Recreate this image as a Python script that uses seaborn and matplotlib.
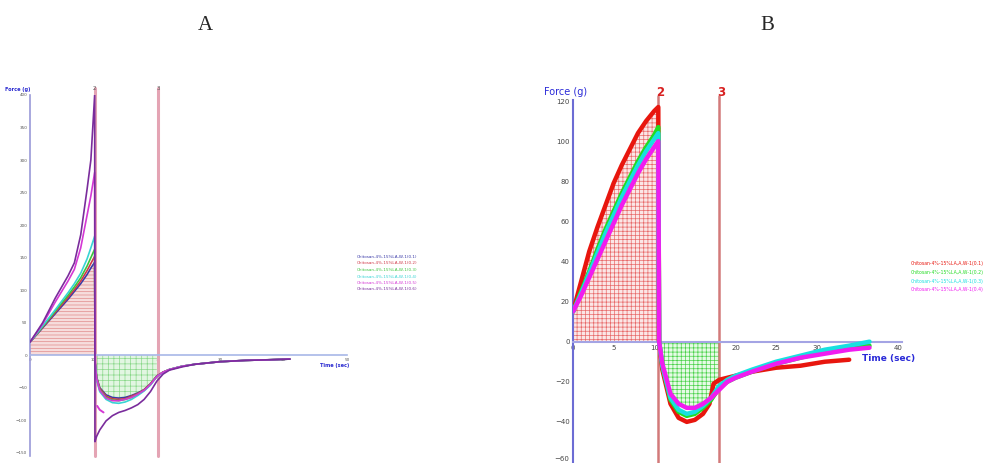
import numpy as np
import pandas as pd
import matplotlib
matplotlib.use("Agg")
import matplotlib.pyplot as plt
import seaborn as sns

# ---------------- Panel A: six samples, compression + withdrawal ----------------
a_names = ["Chitosan-4%-15%LA,W-1(0.1)", "Chitosan-4%-15%LA,W-1(0.2)",
           "Chitosan-4%-15%LA,W-1(0.3)", "Chitosan-4%-15%LA,W-1(0.4)",
           "Chitosan-4%-15%LA,W-1(0.5)", "Chitosan-4%-15%LA,W-1(0.6)"]
a_colors = ["#3a3aa8", "#d03848", "#3cc43c", "#38d4d4", "#d438d4", "#7a2c9c"]

a_time = [0, 2, 4, 6, 7, 8, 9, 9.6, 10.2,
          10.25, 10.5, 11, 12, 13, 14, 15, 16, 17, 18, 19, 20, 21, 22,
          24, 26, 28, 30, 34, 38, 41]
a_blue = [20, 42, 64, 86, 98, 110, 124, 134, 143,
          -8, -33, -50, -61, -65, -66, -65, -62, -58, -53, -44, -32, -26, -22,
          -17, -14, -12, -10, -8, -7, -6]
a_red = [20, 43, 66, 89, 101, 114, 130, 141, 152,
         -9, -34, -51, -63, -67, -68, -67, -63, -59, -53, -44, -32, -26, -22,
         -17, -14, -12, -10, -8, -7, -6]
a_green = [20, 44, 68, 92, 105, 119, 137, 150, 163,
           -10, -36, -53, -65, -69, -70, -68, -65, -60, -54, -45, -33, -26, -22,
           -17, -14, -12, -10, -8, -7, -6]
a_cyan = [20, 45, 70, 96, 110, 126, 148, 165, 183,
          -10, -38, -56, -68, -73, -74, -72, -68, -62, -55, -46, -33, -27, -22,
          -17, -14, -12, -10, -8, -7, -6]
a_magenta = [20, 48, 82, 114, 132, 165, 215, 245, 281,
             -10, -36, -54, -66, -70, -70, -68, -65, -60, -54, -45, -33, -26, -22,
             -17, -14, -12, -10, -8, -7, -6]
a_purple = [20, 50, 88, 122, 142, 185, 255, 300, 400,
            -133, -125, -115, -101, -93, -88, -85, -81, -76, -68, -56, -40, -29, -23,
            -18, -14, -12, -10, -8, -7, -6]
a_frag_time = [10.6, 11.0, 11.6]
a_frag_force = [-78, -84, -88]

a_markers = [10.2, 20.2]
a_marker_labels = ["2", "3"]
a_yticks = [-150, -100, -50, 0, 50, 100, 150, 200, 250, 300, 350, 400]
a_xticks = [0, 10, 20, 30, 40, 50]

# ---------------- Panel B: four samples ----------------
b_names = ["Chitosan-4%-15%LA,A,W-1(0.1)", "Chitosan-4%-15%LA,A,W-1(0.2)",
           "Chitosan-4%-15%LA,A,W-1(0.3)", "Chitosan-4%-15%LA,A,W-1(0.4)"]
b_colors = ["#e8160e", "#22dc22", "#18e0e0", "#f01cf0"]

b_rise_time = [0, 1, 2, 3, 4, 5, 6, 7, 8, 9, 10, 10.5]
b_red_rise = [15, 30, 45, 57, 68, 79, 88, 96, 104, 110, 115, 117]
b_green_rise = [15, 25, 35, 46, 56, 65, 74, 82, 90, 97, 103, 107]
b_cyan_rise = [15, 24, 34, 44, 54, 63, 72, 80, 88, 95, 101, 104]
b_magenta_rise = [15, 23, 32, 41, 50, 59, 68, 76, 84, 91, 97, 100]

b_red_fall_time = [10.6, 11, 12, 13, 14, 15, 16, 16.8, 17.3, 18, 19, 20, 22, 25, 28, 31, 34]
b_red_fall = [0, -14, -31, -38, -40, -39, -36, -31, -21, -19, -18, -17, -15, -13, -12, -10, -9]
b_fall_time = [10.6, 11, 12, 13, 14, 15, 16, 17, 18, 19, 20, 22, 25, 28, 31, 34, 36.5]
b_green_fall = [0, -12, -29, -35, -37, -36, -33, -29, -23, -20, -18, -15, -11, -8, -5, -3, -2]
b_cyan_fall = [0, -12, -28, -34, -36, -35, -32, -28, -22, -19, -17, -14, -10, -7, -4, -2, 0]
b_magenta_fall = [0, -11, -26, -31, -33, -33, -31, -28, -24, -20, -18, -15, -11, -8, -6, -4, -3]

b_markers = [10.5, 18.0]
b_marker_labels = ["2", "3"]
b_yticks = [-60, -40, -20, 0, 20, 40, 60, 80, 100, 120]
b_xticks = [0, 5, 10, 15, 20, 25, 30, 35, 40]

# ---------------- long tables ----------------
rows = []
for name, vals in zip(a_names, [a_blue, a_red, a_green, a_cyan, a_magenta, a_purple]):
    for t, f in zip(a_time, vals):
        rows.append((name, t, f))
df_a = pd.DataFrame(rows, columns=["sample", "time", "force"])

rows = []
b_rise = [b_red_rise, b_green_rise, b_cyan_rise, b_magenta_rise]
b_fall = [(b_red_fall_time, b_red_fall), (b_fall_time, b_green_fall),
          (b_fall_time, b_cyan_fall), (b_fall_time, b_magenta_fall)]
for name, rise, (ft, fv) in zip(b_names, b_rise, b_fall):
    for t, f in zip(b_rise_time + ft, rise + fv):
        rows.append((name, t, f))
df_b = pd.DataFrame(rows, columns=["sample", "time", "force"])

sns.set_style("white")
plt.rcParams["font.family"] = ["DejaVu Sans"]
plt.rcParams["hatch.linewidth"] = 0.5

W, H = 988, 463
fig = plt.figure(figsize=(W / 100, H / 100), dpi=100)
fig.patch.set_facecolor("white")


def px(x, y):
    return x / W, 1 - y / H


# ---------------- Panel A ----------------
axA = fig.add_axes([30 / W, 7 / H, 317 / W, 361 / H])
axA.set_xlim(0, 50)
axA.set_ylim(-155, 400)

t_arr = np.array(a_time)
blue_arr = np.array(a_blue, dtype=float)
m1 = t_arr <= 10.2
axA.fill_between(t_arr[m1], 0, blue_arr[m1], facecolor="#f6dcdc",
                 edgecolor="#e08a8a", hatch="-----", linewidth=0, zorder=1)
m2 = (t_arr >= 10.2) & (t_arr <= 20.2)
axA.fill_between(np.r_[10.2, t_arr[m2][1:]], 0, np.r_[0, blue_arr[m2][1:]],
                 facecolor="#e2f6e2", edgecolor="#8ad88a", hatch="+++",
                 linewidth=0, zorder=1)

for xm in a_markers:
    axA.axvline(xm, color="#e4a4b4", lw=2.2, zorder=2, clip_on=False, ymax=1.02)

sns.lineplot(data=df_a, x="time", y="force", hue="sample",
             palette=dict(zip(a_names, a_colors)), estimator=None, sort=False,
             linewidth=1.2, legend=False, ax=axA, zorder=3)
sns.lineplot(x=a_frag_time, y=a_frag_force, color=a_colors[4], linewidth=1.4,
             estimator=None, sort=False, ax=axA, zorder=3)

for s in ["top", "right"]:
    axA.spines[s].set_visible(False)
axA.spines["left"].set_color("#9a9ad8")
axA.spines["left"].set_linewidth(1.2)
axA.spines["bottom"].set_position(("data", 0))
axA.spines["bottom"].set_color("#a8b8e8")
axA.spines["bottom"].set_linewidth(1.2)
axA.set_xticks(a_xticks)
axA.set_yticks(a_yticks)
axA.tick_params(axis="both", labelsize=3, colors="#555555", length=2,
                width=0.6, direction="inout", pad=1)
axA.set_xlabel("")
axA.set_ylabel("")
axA.patch.set_alpha(0)

fig.text(*px(5, 89), "Force (g)", fontsize=3.6, color="#2a2ad0",
         fontweight="bold", va="center", ha="left")
for xm, lab in zip(a_markers, a_marker_labels):
    fig.text(*px(30 + xm * 317 / 50, 89), lab, fontsize=4, color="#555555",
             ha="center", va="center")
fig.text(*px(320, 366), "Time (sec)", fontsize=3.6, color="#2a2ad0",
         fontweight="bold", va="center", ha="left")
for i, (name, col) in enumerate(zip(a_names, a_colors)):
    fig.text(*px(357, 257 + i * 6.5), name, fontsize=3, color=col,
             va="center", ha="left")

# ---------------- Panel B ----------------
axB = fig.add_axes([573 / W, 0 / H, 329 / W, 363 / H])
axB.set_xlim(0, 40.5)
axB.set_ylim(-60.5, 120.5)

rt = np.array(b_rise_time)
axB.fill_between(rt, 0, np.array(b_red_rise), facecolor="#fbe6e6",
                 edgecolor="#e86a6a", hatch="++++", linewidth=0, zorder=1)
ft = np.array(b_fall_time)
mv = np.array(b_magenta_fall, dtype=float)
m3 = ft <= 18.0
axB.fill_between(ft[m3], 0, mv[m3], facecolor="#e6fbe6",
                 edgecolor="#4ad24a", hatch="++++", linewidth=0, zorder=1)

for xm in b_markers:
    axB.axvline(xm, color="#d27a7a", lw=1.8, zorder=2, clip_on=False, ymax=1.01)

sns.lineplot(data=df_b, x="time", y="force", hue="sample",
             palette=dict(zip(b_names, b_colors)), estimator=None, sort=False,
             linewidth=3.2, legend=False, ax=axB, zorder=3)

for s in ["top", "right"]:
    axB.spines[s].set_visible(False)
axB.spines["left"].set_color("#6c6cd4")
axB.spines["left"].set_linewidth(1.5)
axB.spines["bottom"].set_position(("data", 0))
axB.spines["bottom"].set_color("#a4a4e4")
axB.spines["bottom"].set_linewidth(1.5)
axB.set_xticks(b_xticks)
axB.set_yticks(b_yticks)
axB.tick_params(axis="both", labelsize=5, colors="#444444", length=3,
                width=0.8, direction="inout", pad=1)
for t in axB.get_xticklines() + axB.get_yticklines():
    t.set_color("#5050d0")
# lowest tick label sits on the figure edge: rest it on its baseline instead
axB.get_yticklabels()[0].set_va("bottom")
axB.set_xlabel("")
axB.set_ylabel("")
axB.patch.set_alpha(0)

fig.text(*px(544, 92), "Force (g)", fontsize=7, color="#2a2ad8",
         va="center", ha="left")
for xm, lab in zip(b_markers, b_marker_labels):
    fig.text(*px(573 + xm * 329 / 40.5 + 2, 92), lab, fontsize=8.5,
             color="#d82020", fontweight="bold", ha="center", va="center")
fig.text(*px(862, 358), "Time (sec)", fontsize=6.5, color="#2a2ad8",
         fontweight="bold", va="center", ha="left")
for i, (name, col) in enumerate(zip(b_names, b_colors)):
    fig.text(*px(911, 264 + i * 8.5), name, fontsize=3.3, color=col,
             va="center", ha="left")

# ---------------- panel titles ----------------
fig.text(*px(205, 25), "A", fontsize=15, family="Liberation Serif",
         ha="center", va="center")
fig.text(*px(767, 25), "B", fontsize=15, family="Liberation Serif",
         ha="center", va="center")

fig.savefig("out.png", dpi=100, facecolor="white")
